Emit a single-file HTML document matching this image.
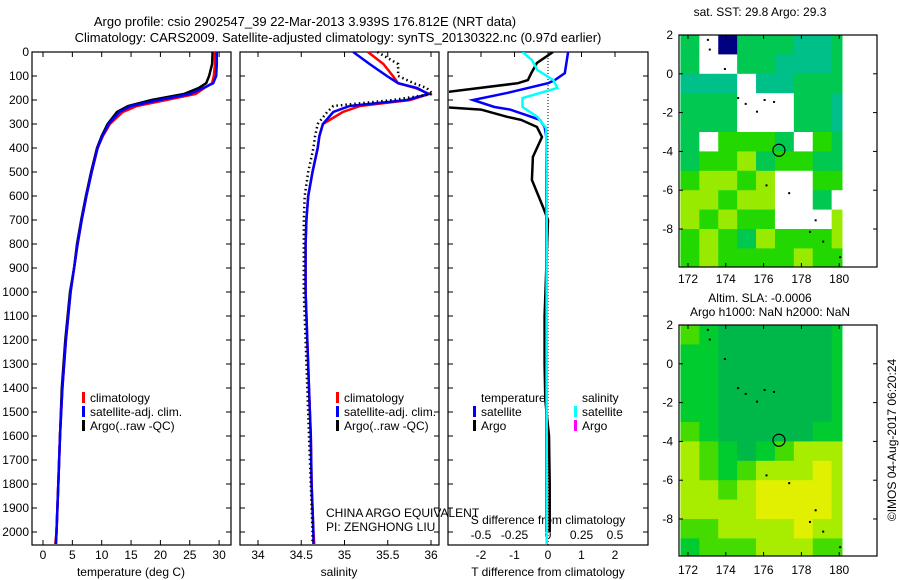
<!DOCTYPE html>
<html><head><meta charset="utf-8">
<style>
html,body{margin:0;padding:0;background:#fff;}
svg{display:block;font-family:"Liberation Sans",sans-serif;}
text{font-size:12px;fill:#000;}
</style></head>
<body>
<svg id="fig" width="900" height="580" viewBox="0 0 900 580" xmlns="http://www.w3.org/2000/svg">
<text x="305" y="26" text-anchor="middle" style="font-size:13px">Argo profile: csio 2902547_39 22-Mar-2013 3.939S 176.812E (NRT data)</text>
<text x="338" y="42" text-anchor="middle" style="font-size:13px">Climatology: CARS2009. Satellite-adjusted climatology: synTS_20130322.nc (0.97d earlier)</text>
<g id="g"></g>
</svg>
<script>
// ---------- data ----------
const depths = [0,50,100,130,150,175,200,225,250,300,350,400,500,600,700,800,900,1000,1200,1400,1600,1800,2000,2050];
const argoT = [28.9,28.8,28.3,27.8,26.5,24,18.5,14.5,12.6,11,10,9.2,8.2,7.3,6.5,5.8,5.3,4.6,3.8,3.2,2.9,2.6,2.3,2.2];
const climT = [29.3,29.3,29.1,28.8,27.5,26,21,16,13.6,11.4,10.2,9.3,8.3,7.4,6.6,5.9,5.3,4.7,3.9,3.3,2.9,2.6,2.3,2.1];
const satT  = [29.6,29.6,29.5,29,27.3,25,19.8,15,13,11.2,10.1,9.3,8.3,7.4,6.6,5.9,5.3,4.7,3.9,3.3,2.9,2.6,2.3,2.2];
const argoS = [35.38,35.62,35.62,35.8,35.95,36.02,35.56,34.87,34.80,34.69,34.66,34.64,34.58,34.54,34.53,34.53,34.53,34.53,34.55,34.57,34.59,34.61,34.63,34.63];
const climS = [35.27,35.45,35.56,35.62,35.82,35.98,35.76,35.18,34.98,34.75,34.71,34.69,34.63,34.58,34.56,34.55,34.55,34.55,34.57,34.59,34.61,34.62,34.64,34.65];
const satS  = [35.10,35.29,35.49,35.62,35.84,35.97,35.72,35.06,34.87,34.75,34.71,34.69,34.63,34.58,34.56,34.55,34.55,34.55,34.57,34.59,34.61,34.62,34.64,34.64];
const diffDepthsT = [0,46,88,117,130,170,200,229,240,270,283,312,354,437,533,646,700,900,1100,1300,1450,1600,1800,2000];
const satTdiff  = [0.6,0.55,0.5,0.2,0,-1.2,-2.24,-1.6,-1.13,-0.5,-0.24,-0.1,-0.05,-0.05,-0.05,-0.05,-0.05,-0.05,-0.05,-0.05,-0.05,-0.05,-0.05,-0.05];
const argoTdiff = [0.15,-0.33,-0.5,-0.6,-0.9,-3.2,-3.5,-3.2,-2,-1.22,-0.8,-0.33,-0.18,-0.45,-0.48,-0.15,0,-0.05,-0.1,-0.1,-0.08,0.03,0.05,0.05];
const diffDepthsS = [0,33,75,117,150,192,229,270,316,500,1000,1500,2050];
const satSdiff = [-0.19,-0.12,-0.08,0.04,0.07,-0.19,-0.19,-0.08,-0.015,-0.01,-0.01,-0.01,-0.01];
const depthTicks = [0,100,200,300,400,500,600,700,800,900,1000,1100,1200,1300,1400,1500,1600,1700,1800,1900,2000];
const tempTicks = [0,5,10,15,20,25,30];
const salTicks = [34,34.5,35,35.5,36];
const salTickLabels = ["34","34.5","35","35.5","36"];
const tdTicks = [-2,-1,0,1,2];
const sdTicks = [-0.5,-0.25,0,0.25,0.5];
const sdTickLabels = ["-0.5","-0.25","0","0.25","0.5"];
const lonTicks = [172,174,176,178,180];
const latTicks = [2,0,-2,-4,-6,-8];
const sstGrid = [
[2,0,5,2,2,2,1,1,2],
[2,0,0,2,2,1,1,1,2],
[1,1,1,0,1,1,2,2,2],
[2,2,2,0,0,0,2,2,1],
[2,2,2,0,0,0,2,2,1],
[2,0,3,3,3,2,0,3,2],
[2,3,3,4,2,3,3,2,2],
[3,4,4,3,4,0,0,3,3],
[4,4,3,4,4,0,0,2,0],
[4,3,4,3,3,0,0,0,4],
[3,4,3,2,4,3,3,3,4],
[3,4,3,3,3,3,4,3,3]];
const slaGrid = [
[3,2,1,1,1,1,1,1,2],
[2,2,1,1,1,1,1,1,2],
[2,2,1,1,1,1,1,1,2],
[2,2,1,1,1,1,1,1,2],
[2,2,1,1,1,1,1,1,2],
[3,2,1,1,1,1,1,2,2],
[4,3,2,1,2,3,4,4,4],
[4,3,2,3,4,4,4,5,4],
[4,4,3,4,5,5,5,5,4],
[4,4,4,4,5,5,5,5,4],
[3,3,4,4,4,4,5,4,4],
[2,3,3,3,4,4,4,3,3]];
const floatLon = 176.812, floatLat = -3.939;

// ---------- helpers ----------
const NS="http://www.w3.org/2000/svg";
const G=document.getElementById('g');
function mk(tag,attrs,parent){const e=document.createElementNS(NS,tag);for(const k in attrs)e.setAttribute(k,attrs[k]);(parent||G).appendChild(e);return e;}
function txt(x,y,s,anchor,parent){const t=mk('text',{x:x,y:y,'text-anchor':anchor||'start'},parent);t.textContent=s;return t;}
const Y0=52, PY=0.24; // px per m
const yD=d=>Y0+d*PY;
const xT=v=>43+v*5.87;
const xS=v=>258+(v-34)*86.5;
const xTd=v=>548+v*33.5;
const xSd=v=>548+v*134;

function panel(x0,x1,name,ylabels){
  const g=mk('g',{});
  
  
  mk('rect',{x:x0,y:52,width:x1-x0,height:493,fill:'none',stroke:'#000','stroke-width':1.2},g);
  depthTicks.forEach(d=>{
    mk('line',{x1:x0,x2:x0+5,y1:yD(d),y2:yD(d),stroke:'#000'},g);
    mk('line',{x1:x1-5,x2:x1,y1:yD(d),y2:yD(d),stroke:'#000'},g);
    if(ylabels){const t=txt(x0-3,yD(d)+4,String(d),'end',g);}
  });
  return g;
}
function line(xs,ds,xf,color,width,name,dash,parent,clip){
  const pts=xs.map((v,i)=>xf(v).toFixed(1)+','+yD(ds[i]).toFixed(1)).join(' ');
  const p=mk('polyline',{points:pts,fill:'none',stroke:color,'stroke-width':width},parent);
  if(dash)p.setAttribute('stroke-dasharray',dash);
  if(clip)p.setAttribute('clip-path',clip);
  
  
  return p;
}
function xticks(vals,labels,xf,y,g,top){
  vals.forEach((v,i)=>{
    const x=xf(v);
    if(top!==false){mk('line',{x1:x,x2:x,y1:52,y2:57,stroke:'#000'},g);}
    mk('line',{x1:x,x2:x,y1:540,y2:545,stroke:'#000'},g);
    const t=txt(x,y,labels[i],'middle',g);
    
    
  });
}
function legendEntry(x,y,color,label,g){
  mk('rect',{x:x,y:y-10,width:3,height:11,fill:color},g);
  const t=txt(x+8,y,label,'start',g);
  
  
}

// ---------- panel 1: temperature ----------
const p1=panel(32,231,'temperature-panel',true);
xticks(tempTicks,tempTicks.map(String),xT,559,p1);
const t1=txt(131,576,'temperature (deg C)','middle',p1);


line(argoT,depths,xT,'#000',2.5,'argo-temperature-line',null,p1);
line(climT,depths,xT,'#ff0000',2.5,'climatology-temperature-line',null,p1);
line(satT,depths,xT,'#0000ff',2.5,'satellite-temperature-line',null,p1);
legendEntry(82,402,'#ff0000','climatology',p1);
legendEntry(82,416,'#0000ff','satellite-adj. clim.',p1);
legendEntry(82,430,'#000','Argo(..raw -QC)',p1);

// ---------- panel 2: salinity ----------
const p2=panel(240,439,'salinity-panel',false);
xticks(salTicks,salTickLabels,xS,559,p2);
const t2=txt(339,576,'salinity','middle',p2);


line(climS,depths,xS,'#ff0000',2.5,'climatology-salinity-line',null,p2);
line(satS,depths,xS,'#0000ff',2.5,'satellite-salinity-line',null,p2);
line(argoS,depths,xS,'#000',2.5,'argo-salinity-line','1.5 3',p2);
legendEntry(336,402,'#ff0000','climatology',p2);
legendEntry(336,416,'#0000ff','satellite-adj. clim.',p2);
legendEntry(336,430,'#000','Argo(..raw -QC)',p2);
const c1=txt(326,517,'CHINA ARGO EQUIVALENT','start',p2);

const c2=txt(326,531,'PI: ZENGHONG LIU','start',p2);


// ---------- panel 3: differences ----------
const p3=panel(448,648,'difference-panel',false);
mk('clipPath',{id:'c3'},p3).appendChild(Object.assign(document.createElementNS(NS,'rect'),{}));
document.querySelector('#c3 rect').setAttribute('x',449);
document.querySelector('#c3 rect').setAttribute('y',52);
document.querySelector('#c3 rect').setAttribute('width',198);
document.querySelector('#c3 rect').setAttribute('height',493);
sdTicks.forEach(v=>mk('line',{x1:xSd(v),x2:xSd(v),y1:52,y2:57,stroke:'#000'},p3));
tdTicks.forEach((v,i)=>{
  const t=txt(xTd(v),559,String(v),'middle',p3);
  
});
sdTicks.forEach((v,i)=>{
  const t=txt(xSd(v),539,sdTickLabels[i],'middle',p3);
  
});
const t3=txt(548,576,'T difference from climatology','middle',p3);

const t4=txt(548,524,'S difference from climatology','middle',p3);

mk('line',{x1:548,x2:548,y1:52,y2:545,stroke:'#000','stroke-dasharray':'1 2'},p3);
line(argoTdiff,diffDepthsT,xTd,'#000',2.5,'argo-t-difference-line',null,p3,'url(#c3)');
line(satTdiff,diffDepthsT,xTd,'#0000ff',2.5,'satellite-t-difference-line',null,p3,'url(#c3)');
line(satSdiff,diffDepthsS,xSd,'#00ffff',2.5,'satellite-s-difference-line',null,p3,'url(#c3)');
const lt=txt(481,402,'temperature','start',p3);
const ls=txt(582,402,'salinity','start',p3);
legendEntry(473,416,'#0000ff','satellite',p3);
legendEntry(473,430,'#000','Argo',p3);
legendEntry(574,416,'#00ffff','satellite',p3);
legendEntry(574,430,'#ff00ff','Argo',p3);

// ---------- maps ----------
const sstColors=['#ffffff','#00c08a','#00c850','#22d800','#98ea00','#000080'];
const slaColors=['#ffffff','#00b84a','#00cc30','#44dc00','#a8ec00','#e0f000'];
function map(top,bottom,latAt2,pxLat,grid,colors,name,lonLabelY){
  const g=mk('g',{});
  
  
  const xL=v=>688+(v-172)*18.9;
  const yL=v=>latAt2+(2-v)*pxLat;
  grid.forEach((row,r)=>row.forEach((c,k)=>{
    const lon0=171.6+k, lat0=2-r;
    const x=xL(lon0), w=Math.min(xL(lon0+1),842)-x;
    const y=yL(lat0), h=Math.min(yL(lat0-1),bottom)-y;
    const cell=mk('rect',{x:x,y:y,width:w+0.5,height:h+0.5,fill:colors[c]},g);
    
    
  }));
  mk('rect',{x:679,y:top,width:198,height:bottom-top,fill:'none',stroke:'#000','stroke-width':1.2},g);
  lonTicks.forEach(v=>{
    mk('line',{x1:xL(v),x2:xL(v),y1:top,y2:top+4,stroke:'#000'},g);
    mk('line',{x1:xL(v),x2:xL(v),y1:bottom-4,y2:bottom,stroke:'#000'},g);
    const t=txt(xL(v),lonLabelY,String(v),'middle',g);
    
  });
  latTicks.forEach(v=>{
    mk('line',{x1:679,x2:683,y1:yL(v),y2:yL(v),stroke:'#000'},g);
    mk('line',{x1:873,x2:877,y1:yL(v),y2:yL(v),stroke:'#000'},g);
    const t=txt(673,yL(v)+4,String(v),'end',g);
    
  });
  [[173,1.8],[173.1,1.3],[173.9,0.3],[174.6,-1.2],[175,-1.5],[175.6,-1.9],[176,-1.3],[176.5,-1.4],[176.1,-5.7],[177.3,-6.1],[178.7,-7.5],[178.4,-8.1],[179.1,-8.6],[180,-9.4]].forEach(p=>{
    const d=mk('rect',{x:xL(p[0]),y:yL(p[1]),width:2,height:2,fill:'#000'},g);
    
  });
  const c=mk('circle',{cx:xL(floatLon),cy:yL(floatLat),r:6,fill:'none',stroke:'#000','stroke-width':1.2},g);
  
}
map(35,267,35,19.4,sstGrid,sstColors,'sst-map',283);
map(325,556,325,19.4,slaGrid,slaColors,'sla-map',574);
const m1=txt(760,16,'sat. SST: 29.8 Argo: 29.3','middle');
const m2=txt(760,302,'Altim. SLA: -0.0006','middle');
const m3=txt(770,316,'Argo h1000: NaN h2000: NaN','middle');
const cr=txt(0,0,'©IMOS 04-Aug-2017 06:20:24','middle');
cr.setAttribute('transform','translate(896,440) rotate(-90)');

</script>
</body></html>
